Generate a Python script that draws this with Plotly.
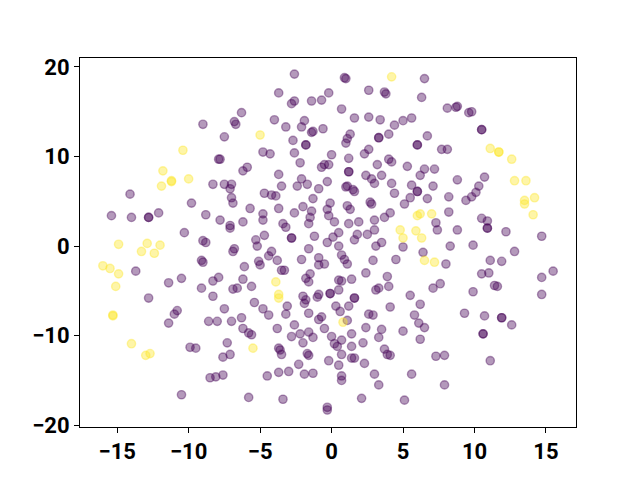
import plotly.graph_objects as go

# Points (data units)
yellow_pts = [
    (-10.4, 10.7), (-11.8, 8.4), (-11.2, 7.3), (-11.2, 7.2), (-10.0, 7.5), (-11.9, 6.7),
    (-5.0, 12.4), (4.2, 18.9), (11.1, 10.9), (11.7, 10.5), (11.7, 10.5), (12.6, 9.7),
    (12.8, 7.3), (13.6, 7.3), (13.5, 5.1), (14.2, 5.4), (13.5, 4.7), (14.1, 3.5),
    (-14.9, 0.2), (-12.9, 0.3), (-13.3, -0.6), (-12.4, -0.8), (-12.0, 0.1), (-16.0, -2.2),
    (-15.5, -2.5), (-14.9, -3.1), (-15.1, -4.5), (-15.3, -7.7), (-15.3, -7.8), (-14.0, -10.9),
    (-13.0, -12.2), (-12.7, -12.0), (-5.5, -11.4), (-3.9, -4.0), (-3.7, -5.4), (-3.7, -5.8),
    (0.8, -8.5), (6.0, 3.4), (6.2, 3.6), (7.0, 3.6), (4.8, 1.8), (5.0, 0.9), (5.9, 1.7),
    (6.3, 0.9), (6.5, -1.6), (7.2, -1.8),
]

purple_pts = [
    (-9.0, 13.6), (-2.6, 19.2), (-3.7, 17.1), (-2.8, 15.9), (-2.6, 16.2), (-1.4, 16.2), (-0.7, 16.3),
    (-0.2, 17.1), (-6.3, 14.9), (-6.8, 13.9), (-6.7, 13.6), (-4.0, 14.1), (-7.5, 12.2), (-3.2, 13.3),
    (-2.1, 13.3), (-1.9, 14.0), (-1.4, 12.7), (-1.3, 12.8), (-0.6, 13.1), (-2.7, 11.8), (-1.8, 11.3),
    (-1.8, 11.3), (-7.9, 9.7), (-7.8, 9.7), (-4.8, 10.5), (-4.3, 10.3), (-2.6, 10.4), (-2.2, 9.3),
    (-0.5, 9.1), (-0.2, 9.1), (-0.7, 8.8), (-6.2, 8.4), (-5.9, 8.8), (-3.7, 8.0), (-2.1, 7.5),
    (-8.3, 6.9), (-7.5, 6.9), (-7.0, 6.9), (-3.5, 6.7), (-2.4, 6.7),
    (0.9, 18.8), (1.0, 18.7), (6.5, 18.7), (2.6, 17.4), (3.7, 17.2), (3.8, 17.0), (6.3, 16.6),
    (8.1, 15.4), (0.7, 15.3), (1.6, 14.3), (2.6, 14.4), (3.4, 14.1), (4.4, 13.5), (5.0, 14.0),
    (5.6, 14.3), (1.3, 12.5), (1.1, 12.0), (1.0, 11.5), (3.3, 12.1), (3.3, 12.1), (4.0, 12.5),
    (6.0, 11.3), (6.0, 11.3), (6.7, 12.3), (7.7, 10.8), (8.1, 10.8), (2.6, 10.8), (2.3, 10.3),
    (0.0, 10.2), (1.2, 9.8), (4.0, 9.7), (4.2, 9.4), (3.2, 9.1), (5.3, 8.9), (6.5, 8.6), (7.2, 8.6),
    (1.2, 8.3), (1.2, 8.3), (2.4, 7.9), (2.8, 7.5), (3.0, 7.0), (3.5, 7.9), (6.2, 7.9), (4.2, 7.0),
    (-0.3, 7.2), (1.1, 6.7), (5.6, 6.8), (7.1, 6.7),
    (8.7, 15.5), (8.8, 15.6), (9.6, 14.9), (9.8, 15.0), (10.5, 13.0), (10.5, 13.0), (8.8, 7.4),
    (10.7, 7.7), (10.3, 6.7),
    (-14.1, 5.8), (-9.8, 4.8), (-15.4, 3.4), (-14.0, 3.2), (-12.8, 3.2), (-12.8, 3.2), (-12.1, 3.7),
    (-8.8, 3.5), (-10.3, 1.5), (-9.0, 0.6), (-8.8, 0.4), (-9.1, -1.6), (-9.0, -1.8), (-13.7, -2.8),
    (-10.5, -3.6), (-11.4, -4.1), (-9.1, -4.7), (-12.8, -5.8),
    (-7.1, 6.4), (-7.0, 5.4), (-6.9, 4.8), (-4.7, 5.9), (-4.2, 5.7), (-3.9, 5.6), (-1.7, 6.9),
    (-0.9, 6.4), (-1.3, 5.3), (-5.7, 4.2), (-3.7, 4.2), (-2.0, 4.4), (-1.4, 3.9), (-1.5, 3.2),
    (-1.6, 2.5), (-0.3, 4.1), (-0.2, 3.4), (-7.8, 2.9), (-4.8, 3.6), (-4.8, 2.9), (-2.6, 3.7),
    (-6.2, 2.7), (-7.1, 2.3), (-7.1, 2.0), (-3.4, 2.5), (-3.2, 2.1), (-4.7, 1.2), (-5.3, 0.7),
    (-5.2, 0.0), (-2.8, 0.9), (-2.8, 0.9), (-1.2, 1.1), (-0.3, 0.4), (-6.8, -0.3), (-6.9, -0.6),
    (-4.2, -0.6), (-4.4, -1.1), (-1.6, -0.3), (-3.8, -1.6), (-2.1, -1.5), (-0.9, -1.3), (-0.9, -2.1),
    (-5.1, -1.7), (-5.0, -2.1), (-6.1, -2.3), (-3.5, -2.7), (-3.3, -2.7), (-1.5, -3.1), (-1.8, -3.6),
    (-1.6, -4.0), (-7.9, -3.5), (-8.3, -3.9), (-6.2, -3.7), (-6.9, -4.8), (-6.6, -4.7), (-5.6, -4.5),
    (-8.3, -5.6), (-5.4, -6.3), (-3.1, -6.7), (-2.0, -5.6), (-1.8, -6.0), (-1.9, -6.4), (-1.0, -5.7),
    (-0.9, -5.4), (-7.5, -7.0),
    (1.0, 6.6), (1.6, 6.1), (1.5, 6.3), (4.4, 5.9), (6.0, 6.1), (6.0, 6.1), (-0.1, 4.8), (1.1, 4.5),
    (1.3, 4.1), (2.7, 4.9), (2.8, 4.7), (5.1, 4.7), (5.5, 5.4), (6.7, 5.3), (8.2, 5.5), (0.2, 2.7),
    (1.2, 2.5), (1.9, 2.7), (3.0, 2.9), (3.7, 3.2), (4.1, 3.7), (8.2, 3.8), (7.3, 2.6), (7.4, 1.8),
    (3.0, 1.8), (2.5, 1.3), (1.8, 1.3), (0.5, 1.5), (0.1, 1.0), (1.6, 0.7), (3.5, 0.4), (3.1, 0.0),
    (0.5, 0.0), (5.0, -0.1), (8.3, 0.0), (6.4, -0.7), (0.7, -1.0), (0.9, -1.5), (1.1, -2.0),
    (2.9, -1.6), (4.5, -1.5), (8.0, -2.0), (-0.5, -2.0), (2.4, -3.0), (3.9, -3.4), (0.5, -3.8),
    (0.7, -3.9), (1.4, -3.7), (4.0, -4.5), (7.6, -4.2), (7.1, -4.7), (0.5, -4.9), (-0.1, -5.3),
    (-0.1, -5.3), (3.1, -4.9), (3.3, -4.7), (1.6, -5.8), (1.6, -5.8), (5.5, -5.5), (0.3, -6.7),
    (1.2, -6.7), (6.2, -6.5), (4.1, -6.8),
    (10.1, 6.0), (9.8, 5.5), (9.4, 5.1), (10.5, 3.1), (10.9, 2.8), (10.9, 2.0), (10.9, 2.0),
    (12.2, 1.6), (14.7, 1.1), (8.8, 1.8), (9.9, 0.1), (12.8, -0.6), (11.1, -1.6), (11.9, -1.7),
    (10.5, -3.1), (11.0, -3.0), (15.5, -2.8), (14.7, -3.5), (11.4, -4.4), (11.6, -4.5), (9.9, -5.1),
    (14.7, -5.4),
    (-10.8, -7.2), (-11.0, -7.6), (-11.4, -8.6), (-9.9, -11.3), (-9.5, -11.4), (-10.5, -16.6),
    (-4.8, -7.0), (-4.4, -7.7), (-3.2, -7.6), (-1.6, -7.5), (-8.6, -8.4), (-8.0, -8.4), (-7.0, -8.4),
    (-6.3, -8.0), (-6.2, -9.2), (-5.8, -9.7), (-5.6, -9.9), (-3.8, -9.2), (-2.6, -8.8), (-0.9, -8.2),
    (-0.7, -7.9), (-0.5, -9.2), (-2.8, -10.1), (-2.2, -9.8), (-1.6, -9.6), (-1.3, -10.2), (-2.0, -10.8),
    (-7.3, -10.8), (-7.6, -12.4), (-7.1, -12.1), (-3.7, -11.4), (-3.6, -11.6), (-3.5, -12.1),
    (-1.7, -12.0), (-1.6, -12.2), (-0.2, -12.8), (-8.5, -14.7), (-8.1, -14.6), (-7.6, -14.4),
    (-4.5, -14.5), (-3.7, -14.1), (-3.0, -14.0), (-2.3, -13.2), (-1.9, -14.3), (-1.3, -14.2),
    (-5.8, -16.9), (-3.4, -17.1), (-0.3, -18.0), (-0.3, -18.3),
    (0.6, -7.3), (2.6, -7.6), (2.9, -7.7), (5.8, -7.7), (1.1, -8.3), (2.4, -9.1), (3.5, -9.3),
    (3.3, -10.2), (5.0, -9.5), (6.1, -8.6), (6.5, -9.1), (6.2, -10.4), (0.0, -10.1), (1.4, -9.8),
    (0.7, -10.5), (0.2, -10.9), (0.4, -11.2), (2.2, -10.8), (1.4, -11.2), (3.7, -11.5), (3.9, -12.1),
    (4.1, -12.2), (0.7, -12.1), (1.4, -12.5), (1.6, -12.5), (2.3, -13.1), (0.5, -13.3), (7.3, -12.3),
    (7.9, -12.2), (3.0, -14.3), (5.6, -14.3), (0.7, -14.5), (0.7, -15.0), (3.3, -15.5), (7.9, -15.5),
    (2.1, -17.0), (5.1, -17.2),
    (9.3, -7.5), (10.7, -7.8), (11.9, -8.0), (11.9, -8.0), (12.6, -8.8), (10.6, -9.8), (10.6, -9.8),
    (11.1, -12.8),
]

x_ticks = [-15, -10, -5, 0, 5, 10, 15]
y_ticks = [-20, -10, 0, 10, 20]

purple_x = [p[0] for p in purple_pts]
purple_y = [p[1] for p in purple_pts]
yellow_x = [p[0] for p in yellow_pts]
yellow_y = [p[1] for p in yellow_pts]

PURPLE = "rgba(68,1,84,0.4)"
YELLOW = "rgba(253,231,37,0.4)"

fig = go.Figure()
fig.add_trace(go.Scatter(
    x=purple_x, y=purple_y, mode="markers",
    marker=dict(size=8.3, color=PURPLE, line=dict(color=PURPLE, width=1.4)),
    showlegend=False, hoverinfo="skip"))
fig.add_trace(go.Scatter(
    x=yellow_x, y=yellow_y, mode="markers",
    marker=dict(size=8.3, color=YELLOW, line=dict(color=YELLOW, width=1.4)),
    showlegend=False, hoverinfo="skip"))

axis_common = dict(
    showgrid=False, zeroline=False, showline=True, linecolor="black", linewidth=1,
    mirror=True, ticks="outside", ticklen=5, tickwidth=1, tickcolor="black",
    tickfont=dict(family="Roboto", size=22, color="black", weight="bold"),
)

fig.update_layout(
    width=640, height=480,
    margin=dict(l=80, r=64, t=58, b=53),
    paper_bgcolor="white", plot_bgcolor="white",
    xaxis=dict(range=[-17.6, 17.1], tickvals=x_ticks, **axis_common),
    yaxis=dict(range=[-20.2, 21.0], tickvals=y_ticks, **axis_common),
)

fig.write_html("out.html", config={"displayModeBar": False},
               post_script="document.body.style.margin='0';")
